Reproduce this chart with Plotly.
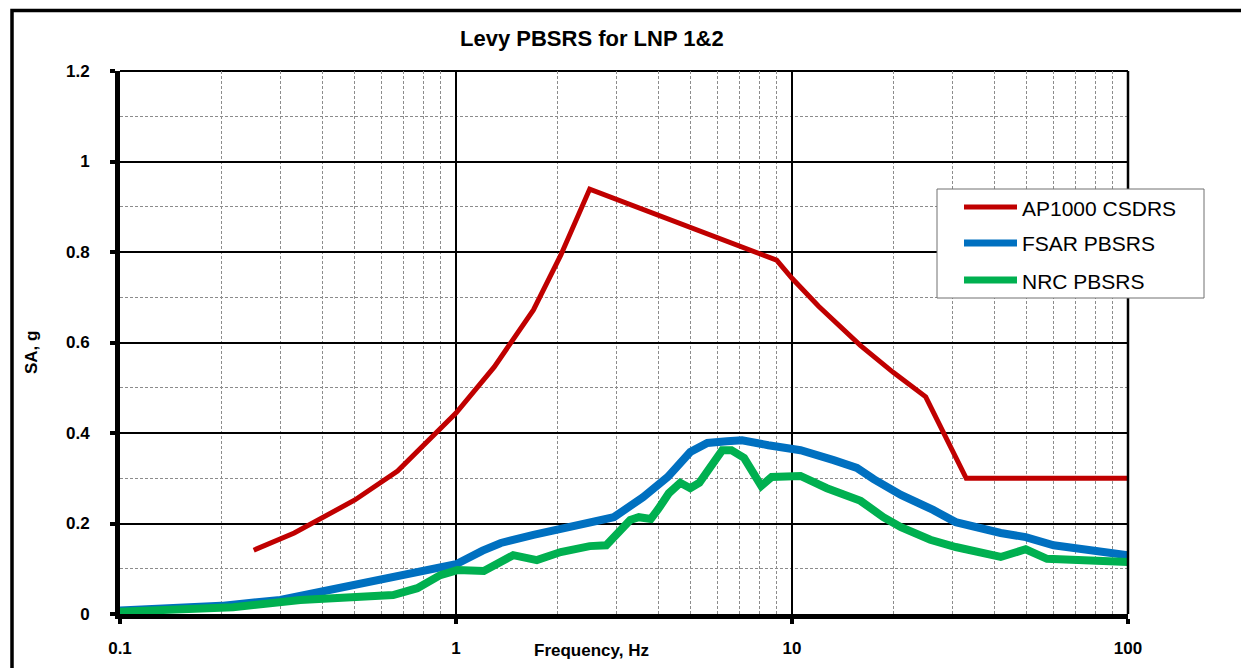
import plotly.graph_objects as go

# ---------------- data ----------------
ap1000_freq = [0.25, 0.33, 0.5, 0.67, 1.0, 1.3, 1.7, 2.05, 2.5, 9.0, 10.0, 12.0, 16.0, 20.0, 25.0, 33.0, 100.0]
ap1000_sa = [0.141, 0.179, 0.252, 0.316, 0.444, 0.546, 0.672, 0.793, 0.939, 0.782, 0.742, 0.680, 0.593, 0.534, 0.480, 0.300, 0.300]

fsar_freq = [0.1, 0.2, 0.3, 0.4, 0.5, 0.7, 1.0, 1.2, 1.36, 1.7, 2.35, 2.95, 3.6, 4.27, 4.98, 5.6, 6.4, 7.1,
             8.5, 10.6, 13.3, 15.6, 17.5, 21.1, 26.3, 30.7, 41.8, 49.6, 60.1, 100.0]
fsar_sa = [0.008, 0.018, 0.031, 0.049, 0.066, 0.084, 0.110, 0.140, 0.157, 0.175, 0.197, 0.214, 0.258, 0.303, 0.358, 0.378,
           0.382, 0.384, 0.373, 0.362, 0.340, 0.323, 0.298, 0.263, 0.230, 0.203, 0.179, 0.170, 0.152, 0.130]

nrc_freq = [0.1, 0.217, 0.344, 0.5, 0.65, 0.767, 0.898, 1.01, 1.21, 1.48, 1.74, 2.05, 2.5, 2.8, 3.3, 3.5, 3.8, 4.0,
            4.3, 4.65, 4.98, 5.3, 5.7, 6.2, 6.6, 7.2, 8.1, 8.7, 10.6, 12.7, 16.0, 18.7, 21.1, 25.8, 30.7, 35.2,
            41.8, 49.6, 57.4, 100.0]
nrc_sa = [0.005, 0.015, 0.031, 0.037, 0.042, 0.057, 0.086, 0.097, 0.095, 0.130, 0.119, 0.137, 0.150, 0.152, 0.208,
          0.214, 0.210, 0.232, 0.267, 0.290, 0.278, 0.290, 0.325, 0.362, 0.362, 0.345, 0.283, 0.303, 0.305, 0.278,
          0.250, 0.214, 0.192, 0.164, 0.148, 0.137, 0.126, 0.143, 0.122, 0.115]

series_names = ["AP1000 CSDRS", "FSAR PBSRS", "NRC PBSRS"]
series_colors = ["#C00000", "#0070C0", "#00B050"]
series_widths = [5, 8, 8]

x_tickvals = [0.1, 1, 10, 100]
x_ticktext = ["0.1", "1", "10", "100"]
y_tickvals = [0, 0.2, 0.4, 0.6, 0.8, 1.0, 1.2]
y_ticktext = ["0", "0.2", "0.4", "0.6", "0.8", "1", "1.2"]

# ---------------- figure ----------------
fig = go.Figure()
for name, fx, fy, col, w in zip(series_names, [ap1000_freq, fsar_freq, nrc_freq], [ap1000_sa, fsar_sa, nrc_sa],
                                series_colors, series_widths):
    fig.add_trace(go.Scatter(x=fx, y=fy, mode="lines", name=name,
                             line=dict(color=col, width=w), showlegend=False))

OFF = 8  # page body margin
W, H = 1249 - OFF, 668 - OFF
PL, PR, PT, PB = 120, 1128, 71, 614  # plot area in page pixels
L, T = PL - OFF, PT - OFF
R, B = W - (PR - OFF), H - (PB - OFF)
pw, ph = PR - PL, PB - PT


def px2x(px):
    return (px - PL) / pw


def py2y(py):
    return (PB - py) / ph


FONT = "Arial, Liberation Sans, sans-serif"

fig.update_layout(
    width=W, height=H,
    margin=dict(l=L, r=R, t=T, b=B, autoexpand=False),
    paper_bgcolor="white", plot_bgcolor="white",
    font=dict(family=FONT, color="black"),
    showlegend=False,
)

fig.update_xaxes(
    type="log", range=[-1, 2], automargin=False,
    tickvals=x_tickvals, ticktext=x_ticktext,
    tickfont=dict(size=17, family=FONT, weight="bold"),
    ticks="outside", ticklen=5, tickwidth=4, tickcolor="black",
    ticklabelstandoff=10,
    showgrid=True, gridcolor="black", gridwidth=2,
    showline=True, linecolor="black", linewidth=5,
    minor=dict(showgrid=True, dtick="D1", gridcolor="#8c8c8c", gridwidth=1, griddash="3px,2px", ticks=""),
    zeroline=False,
)
fig.update_yaxes(
    range=[0, 1.2], automargin=False,
    tickvals=y_tickvals, ticktext=y_ticktext,
    tickfont=dict(size=17, family=FONT, weight="bold"),
    ticks="outside", ticklen=5, tickwidth=4, tickcolor="black",
    ticklabelstandoff=17,
    showgrid=True, gridcolor="black", gridwidth=2,
    showline=True, linecolor="black", linewidth=5,
    minor=dict(showgrid=True, dtick=0.1, gridcolor="#8c8c8c", gridwidth=1, griddash="3px,2px", ticks=""),
    zeroline=False,
)

shapes = []
# outer chart frame (extends past right/bottom edges)
shapes.append(dict(type="rect", xref="paper", yref="paper",
                   x0=px2x(12), x1=1.3, y0=-0.3, y1=py2y(10.5),
                   line=dict(color="black", width=3.5), fillcolor="rgba(0,0,0,0)", layer="above"))
# top and right plot borders
shapes.append(dict(type="line", xref="paper", yref="paper", x0=0, x1=1, y0=1, y1=1,
                   line=dict(color="black", width=2), layer="below"))
shapes.append(dict(type="line", xref="paper", yref="paper", x0=1, x1=1, y0=0, y1=1,
                   line=dict(color="black", width=2.5), layer="above"))
# legend box
shapes.append(dict(type="rect", xref="paper", yref="paper",
                   x0=px2x(937), x1=px2x(1204), y0=py2y(298), y1=py2y(189),
                   line=dict(color="#707070", width=1), fillcolor="white", layer="above"))
legend_rows = [207, 243, 280]
annotations = []
for name, col, w, row in zip(series_names, series_colors, series_widths, legend_rows):
    shapes.append(dict(type="line", xref="paper", yref="paper",
                       x0=px2x(964), x1=px2x(1017), y0=py2y(row), y1=py2y(row),
                       line=dict(color=col, width=w - 1 if w > 5 else w), layer="above"))
    annotations.append(dict(xref="paper", yref="paper", x=px2x(1020), y=py2y(row + 1),
                            text=name, showarrow=False, xanchor="left", yanchor="middle",
                            font=dict(size=21, family=FONT, color="black")))

# title and axis titles
annotations.append(dict(xref="paper", yref="paper", x=px2x(592), y=py2y(39),
                        text="<b>Levy PBSRS for LNP 1&amp;2</b>", showarrow=False,
                        xanchor="center", yanchor="middle",
                        font=dict(size=22, family=FONT, color="black")))
annotations.append(dict(xref="paper", yref="paper", x=px2x(591), y=py2y(650),
                        text="<b>Frequency, Hz</b>", showarrow=False,
                        xanchor="center", yanchor="middle",
                        font=dict(size=17, family=FONT, color="black")))
annotations.append(dict(xref="paper", yref="paper", x=px2x(31), y=py2y(353),
                        text="<b>SA, g</b>", showarrow=False, textangle=-90,
                        xanchor="center", yanchor="middle",
                        font=dict(size=17, family=FONT, color="black")))

fig.update_layout(shapes=shapes, annotations=annotations)

fig.write_html("out.html")
